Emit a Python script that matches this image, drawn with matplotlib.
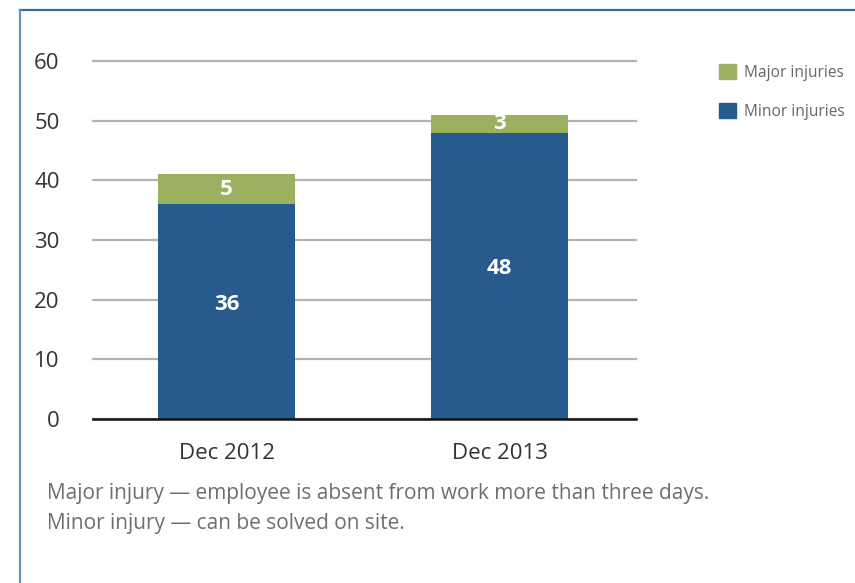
import matplotlib
matplotlib.use("Agg")
import matplotlib.pyplot as plt
from matplotlib.patches import Patch
from matplotlib.lines import Line2D

categories = ["Dec 2012", "Dec 2013"]
minor_injuries = [36, 48]
major_injuries = [5, 3]
y_ticks = [0, 10, 20, 30, 40, 50, 60]

BLUE = "#275A8D"
GREEN = "#9BB160"
plt.rcParams["font.family"] = ["Open Sans", "DejaVu Sans"]

fig = plt.figure(figsize=(8.55, 5.83), dpi=100)
ax = fig.add_axes([93/855, 1-419/583, (636-93)/855, (419-61)/583])

x = list(range(len(categories)))
ax.bar(x, minor_injuries, width=0.5, color=BLUE, zorder=3)
ax.bar(x, major_injuries, bottom=minor_injuries, width=0.5, color=GREEN, zorder=3)
for xi, mn, mj in zip(x, minor_injuries, major_injuries):
    ax.annotate(str(mn), (xi, mn / 2), xytext=(0, 5), textcoords="offset points",
                ha="center", va="center", color="white", fontsize=16, fontweight="bold", zorder=5)
    ax.annotate(str(mj), (xi, mn + mj / 2), xytext=(0, 0), textcoords="offset points",
                ha="center", va="center", color="white", fontsize=16, fontweight="bold", zorder=5)

ax.set_xlim(-0.49, 1.5)
ax.set_ylim(0, 60)
ax.set_yticks(y_ticks)
ax.set_xticks(x)
ax.set_xticklabels(categories)
ax.tick_params(axis="y", length=0, pad=24, labelsize=16, labelcolor="#333333")
ax.tick_params(axis="x", length=0, pad=17, labelsize=16, labelcolor="#333333")
ax.yaxis.grid(True, color="#B3B3B3", linewidth=1.6, zorder=0)
for gl in ax.get_ygridlines():
    gl.set_clip_on(False)
ax.set_axisbelow(True)
for s in ["top", "right", "left"]:
    ax.spines[s].set_visible(False)
ax.spines["bottom"].set_color("#111111")
ax.spines["bottom"].set_linewidth(1.8)
ax.spines["bottom"].set_zorder(4)

handles = [Patch(color=GREEN, label="Major injuries"), Patch(color=BLUE, label="Minor injuries")]
fig.legend(handles=handles, loc="upper left", bbox_to_anchor=(705/855, 1-50/583),
           frameon=False, fontsize=11.2, labelcolor="#666666",
           handlelength=1.1, handleheight=1.1, handletextpad=0.5, labelspacing=1.45)

fig.text(47/855, 1-494/583, "Major injury \u2014 employee is absent from work more than three days.",
         fontsize=15, color="#6E6E6E", va="center", ha="left")
fig.text(47/855, 1-523/583, "Minor injury \u2014 can be solved on site.",
         fontsize=15, color="#6E6E6E", va="center", ha="left")

# frame lines (top and left)
fig.add_artist(Line2D([19.5/855, 1.0], [1-9.5/583, 1-9.5/583], transform=fig.transFigure,
                      color="#3E6A9E", linewidth=1.6))
fig.add_artist(Line2D([19.5/855, 19.5/855], [0, 1-9.5/583], transform=fig.transFigure,
                      color="#6F8FBA", linewidth=1.6))

fig.savefig("out.png", dpi=100)
